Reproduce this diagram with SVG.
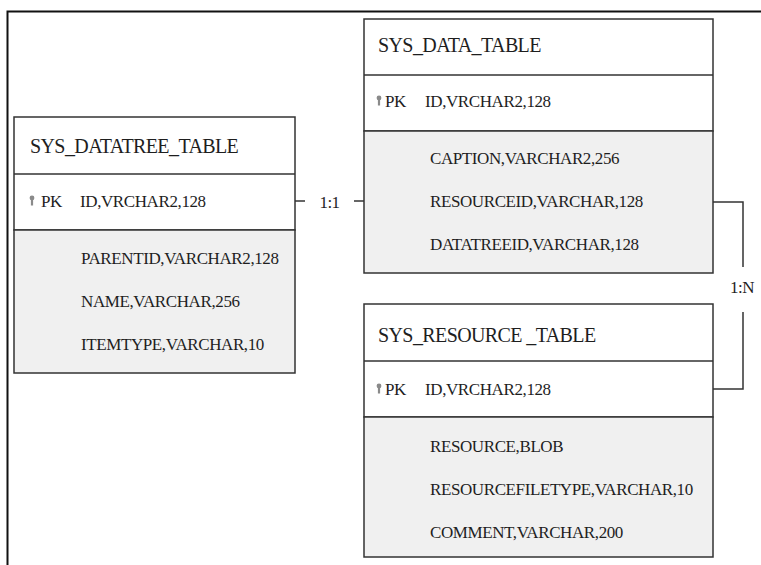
<svg xmlns="http://www.w3.org/2000/svg" width="761" height="565" viewBox="0 0 761 565">
<style>
.box{fill:#ffffff;stroke:#333333;stroke-width:1.5}
.body{fill:#f0f0f0;stroke:#333333;stroke-width:1.5}
.div{stroke:#333333;stroke-width:1.5}
.title{font-family:'Liberation Serif',serif;font-size:20px;letter-spacing:-0.6px;fill:#1e1e1e}
.t{font-family:'Liberation Serif',serif;font-size:17px;letter-spacing:-0.4px;fill:#1e1e1e}
.lbl{font-family:'Liberation Serif',serif;font-size:17px;letter-spacing:-0.5px;fill:#1e1e1e}
.conn{fill:none;stroke:#333333;stroke-width:1.5}
.frame{fill:none;stroke:#111111;stroke-width:2}
</style>
<defs>
<g id="key">
<circle cx="0" cy="-9" r="2.4" fill="#8a8a8a"/>
<rect x="-1.1" y="-8" width="2.2" height="6.5" fill="#8a8a8a"/>
</g>
</defs>
<path class="frame" d="M7.5,565 V11.5 H761"/>
<g id="sys_datatree_table">
<rect class="box" x="14" y="117" width="281" height="113"/>
<rect class="body" x="14" y="230" width="281" height="143"/>
<line class="div" x1="14" y1="174" x2="295" y2="174"/>
<text class="title" x="30" y="153">SYS_DATATREE_TABLE</text>
<use href="#key" x="32" y="207"/>
<text class="t" x="41" y="207">PK</text>
<text class="t" x="80" y="207">ID,VRCHAR2,128</text>
<text class="t" x="81" y="264">PARENTID,VARCHAR2,128</text>
<text class="t" x="81" y="307">NAME,VARCHAR,256</text>
<text class="t" x="81" y="350">ITEMTYPE,VARCHAR,10</text>
</g>
<g id="sys_data_table">
<rect class="box" x="364" y="19" width="349" height="112"/>
<rect class="body" x="364" y="131" width="349" height="142"/>
<line class="div" x1="364" y1="75" x2="713" y2="75"/>
<text class="title" x="378" y="52">SYS_DATA_TABLE</text>
<use href="#key" x="379" y="107"/>
<text class="t" x="385" y="107">PK</text>
<text class="t" x="425" y="107">ID,VRCHAR2,128</text>
<text class="t" x="430" y="164">CAPTION,VARCHAR2,256</text>
<text class="t" x="430" y="207">RESOURCEID,VARCHAR,128</text>
<text class="t" x="430" y="250">DATATREEID,VARCHAR,128</text>
</g>
<g id="sys_resource_table">
<rect class="box" x="364" y="304" width="349" height="113"/>
<rect class="body" x="364" y="417" width="349" height="140"/>
<line class="div" x1="364" y1="361" x2="713" y2="361"/>
<text class="title" x="378" y="342">SYS_RESOURCE _TABLE</text>
<use href="#key" x="379" y="395"/>
<text class="t" x="385" y="395">PK</text>
<text class="t" x="425" y="395">ID,VRCHAR2,128</text>
<text class="t" x="430" y="452">RESOURCE,BLOB</text>
<text class="t" x="430" y="495">RESOURCEFILETYPE,VARCHAR,10</text>
<text class="t" x="430" y="538">COMMENT,VARCHAR,200</text>
</g>
<g id="connectors">
<line class="conn" x1="295" y1="201" x2="305" y2="201"/>
<line class="conn" x1="354" y1="201" x2="364" y2="201"/>
<text class="lbl" x="329.5" y="208" text-anchor="middle">1:1</text>
<path class="conn" d="M713,202 H743 V267"/>
<path class="conn" d="M743,312 V389 H713"/>
<text class="lbl" x="742" y="293" text-anchor="middle">1:N</text>
</g>
</svg>
